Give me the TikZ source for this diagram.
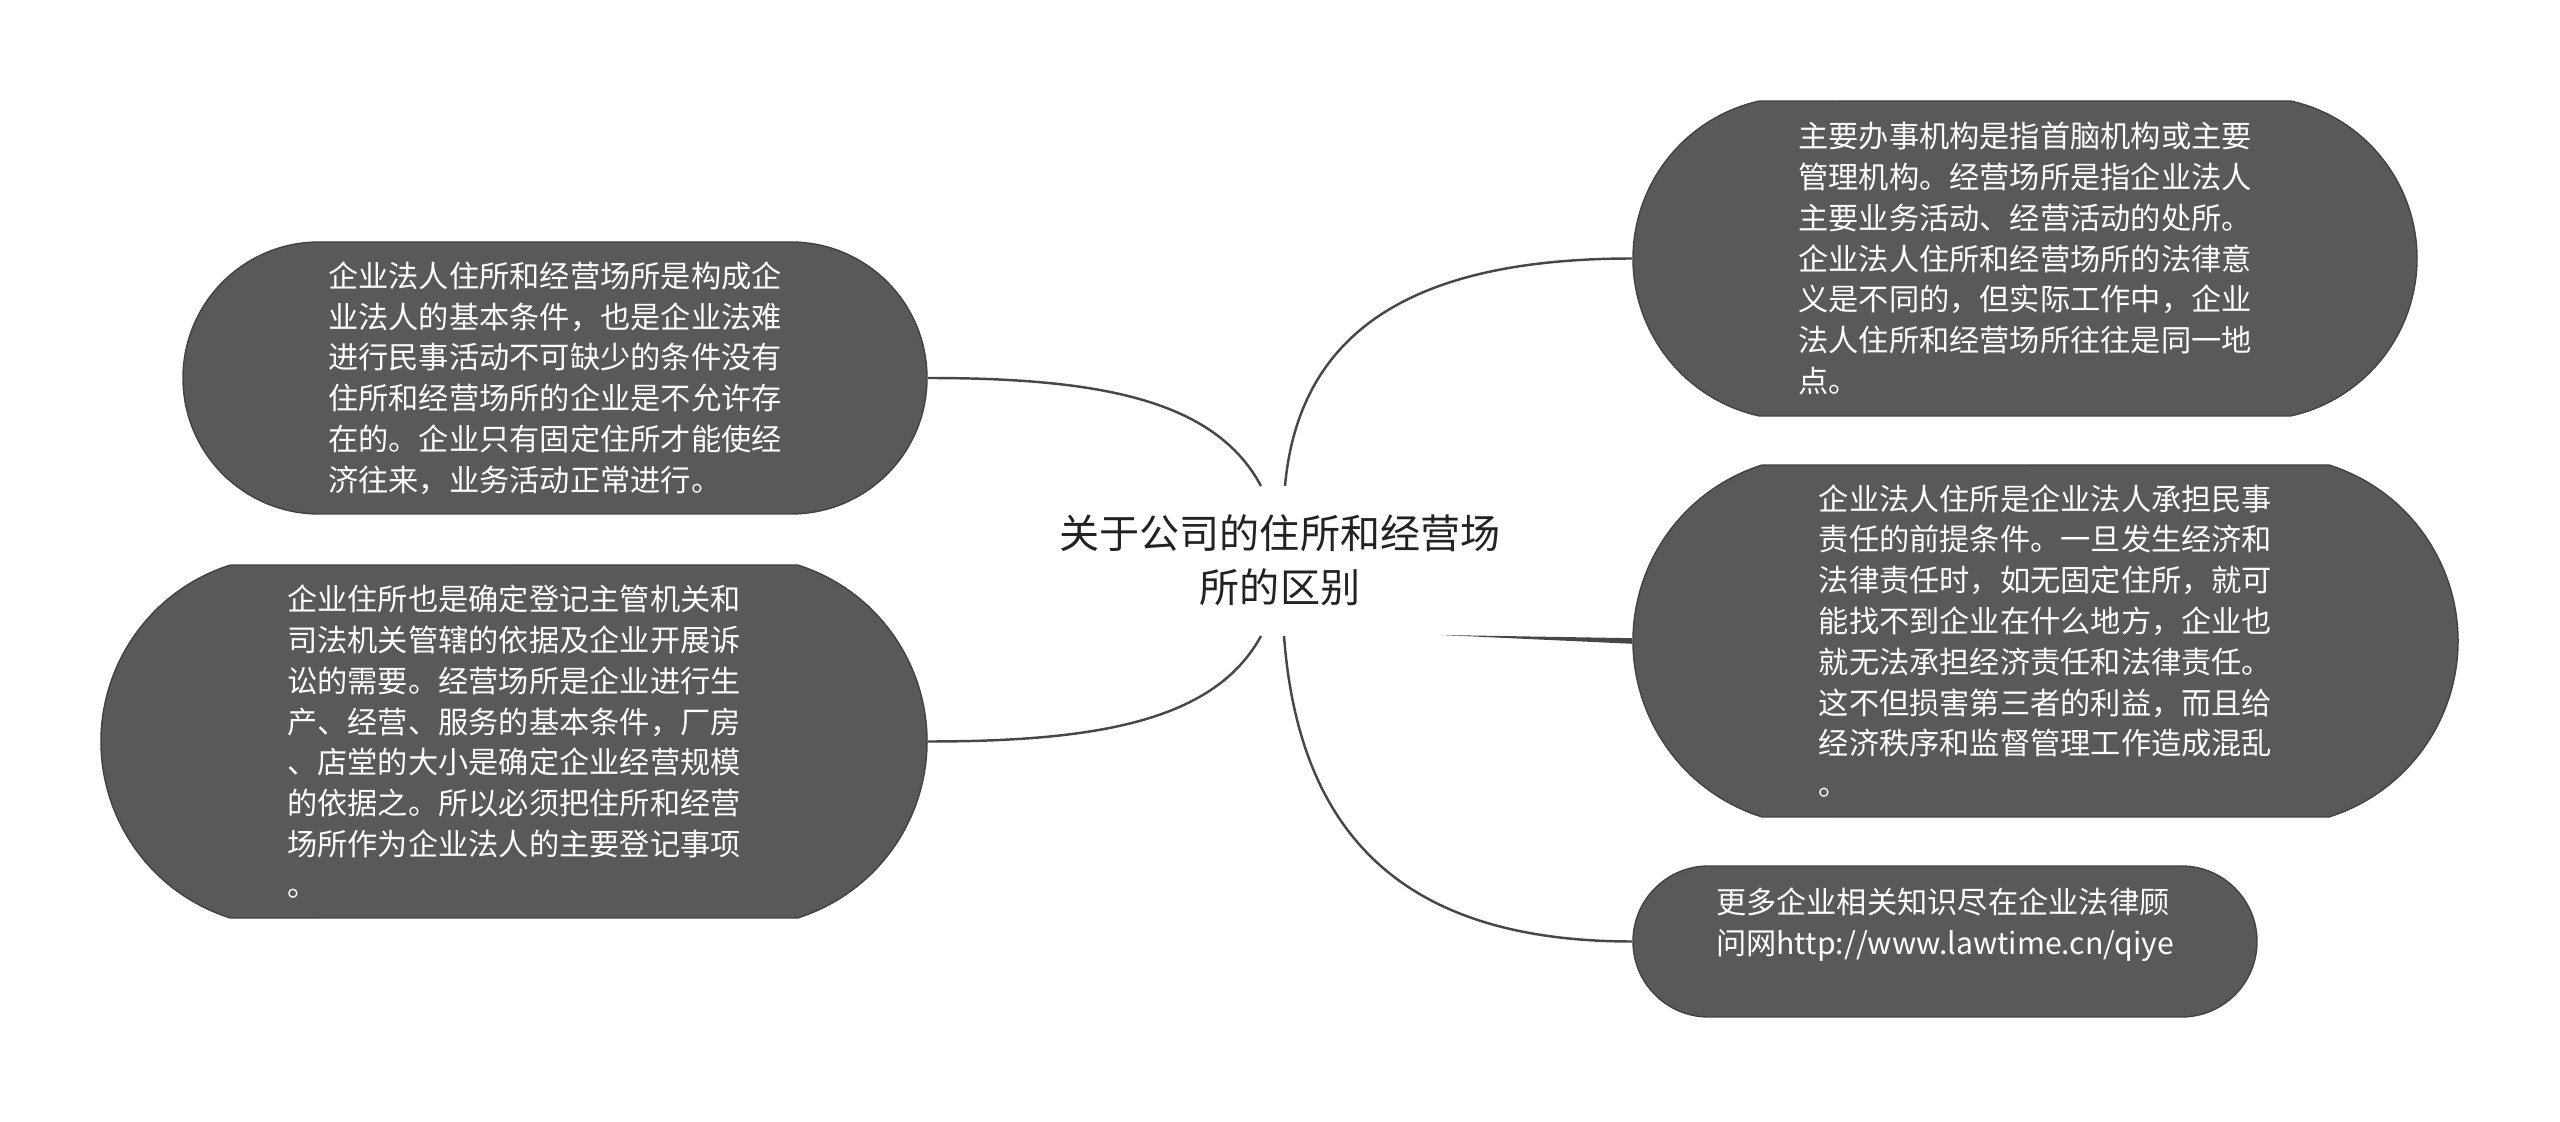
\documentclass[tikz,border=0pt]{standalone}
\usepackage{fontspec}
\setmainfont{Noto Sans CJK SC}
\usepackage{tikz}
\usetikzlibrary{shapes.misc}
\definecolor{bubblefill}{HTML}{595959}
\definecolor{bubbleline}{HTML}{424242}
\definecolor{branchgray}{HTML}{474747}
\definecolor{titletext}{HTML}{222222}

\begin{document}
\begin{tikzpicture}[
  bubble/.style={rounded rectangle, draw=bubbleline, fill=bubblefill,
                 line width=0.8pt, text=white, align=left, inner sep=0pt,
                 font={\fontsize{17.2}{23.2}\selectfont}},
  branch/.style={draw=branchgray, line width=1.4pt},
  topic/.style={align=center, text=titletext, inner sep=0pt,
                font={\fontsize{22.8}{30.5}\selectfont}}
]
\useasboundingbox (0,0) rectangle (51.2,-22.44);

% central topic
\node[topic] (topic) at (25.6,-11.2) {关于公司的住所和经营场\\所的区别};

% left bubbles
\node[bubble, minimum width=14.88cm, minimum height=5.44cm,
      rounded rectangle arc length=180] (basis) at (11.10,-7.56) {
  企业法人住所和经营场所是构成企\\
  业法人的基本条件，也是企业法难\\
  进行民事活动不可缺少的条件没有\\
  住所和经营场所的企业是不允许存\\
  在的。企业只有固定住所才能使经\\
  济往来，业务活动正常进行。
};
\node[bubble, minimum width=16.52cm, minimum height=7.06cm,
      rounded rectangle arc length=145] (register) at (10.28,-14.83) {
  企业住所也是确定登记主管机关和\\
  司法机关管辖的依据及企业开展诉\\
  讼的需要。经营场所是企业进行生\\
  产、经营、服务的基本条件，厂房\\
  、店堂的大小是确定企业经营规模\\
  的依据之。所以必须把住所和经营\\
  场所作为企业法人的主要登记事项\\
  。
};

% right bubbles
\node[bubble, minimum width=15.68cm, minimum height=6.30cm,
      rounded rectangle arc length=155] (meaning) at (40.50,-5.17) {
  主要办事机构是指首脑机构或主要\\
  管理机构。经营场所是指企业法人\\
  主要业务活动、经营活动的处所。\\
  企业法人住所和经营场所的法律意\\
  义是不同的，但实际工作中，企业\\
  法人住所和经营场所往往是同一地\\
  点。
};
\node[bubble, minimum width=16.50cm, minimum height=7.04cm,
      rounded rectangle arc length=145] (liability) at (40.91,-12.82) {
  企业法人住所是企业法人承担民事\\
  责任的前提条件。一旦发生经济和\\
  法律责任时，如无固定住所，就可\\
  能找不到企业在什么地方，企业也\\
  就无法承担经济责任和法律责任。\\
  这不但损害第三者的利益，而且给\\
  经济秩序和监督管理工作造成混乱\\
  。
};
\node[bubble, minimum width=12.48cm, minimum height=3.02cm,
      rounded rectangle arc length=180] (more) at (38.90,-18.83) {
  更多企业相关知识尽在企业法律顾\\
  问网http://www.lawtime.cn/qiye\\
  \mbox{}
};

% branch ends at the topic
\coordinate (hubA) at (25.22,-9.72);
\coordinate (hubB) at (25.70,-9.72);
\coordinate (hubC) at (25.22,-12.72);
\coordinate (hubD) at (25.68,-12.72);
\coordinate (hubE) at (28.82,-12.70);

\draw[branch] (hubA) .. controls +(-0.92,1.72) and +(3.46,0) .. (basis.east);
\draw[branch] (hubC) .. controls +(-0.92,-1.68) and +(3.46,0) .. (register.east);
\draw[branch] (hubB) .. controls +(0.30,3.32) and +(-4.06,0) .. (meaning.west);
\draw[branch] (hubD) .. controls +(0.32,-4.28) and +(-4.26,0) .. (more.west);
\fill[branchgray] (hubE) -- ([yshift=1.6pt]liability.west)
      -- ([yshift=-1.6pt]liability.west) -- cycle;

\end{tikzpicture}
\end{document}
